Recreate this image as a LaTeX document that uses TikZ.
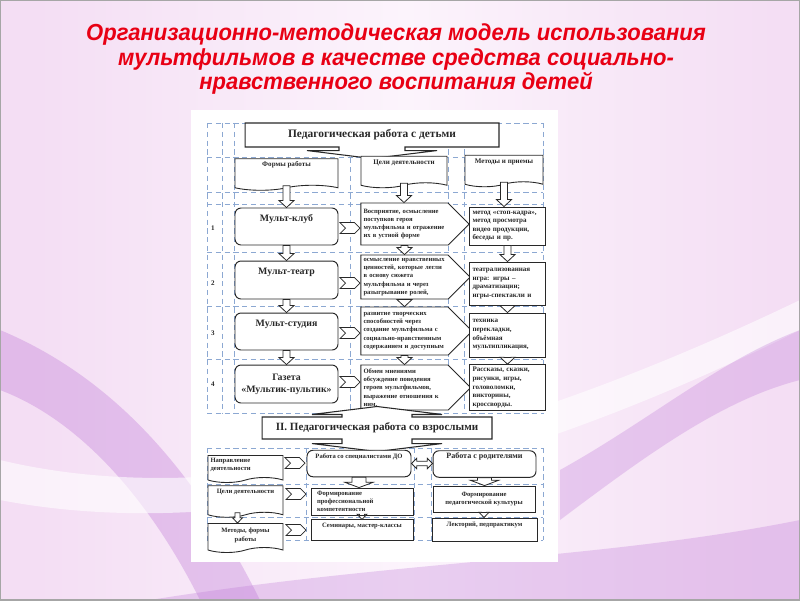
\documentclass[tikz,border=0pt]{standalone}
\usepackage{fontspec}
\setmainfont{Liberation Serif}
\newfontfamily\titlefont{Liberation Sans}[FakeStretch=0.95]
\usetikzlibrary{arrows.meta,calc,shapes.symbols,shapes.arrows}
\definecolor{mfred}{RGB}{232,0,20}
\definecolor{mfgrid}{RGB}{140,168,210}
\definecolor{mfpink}{RGB}{244,222,244}
\definecolor{mflight}{RGB}{252,244,252}
\definecolor{mfpurple}{RGB}{190,120,215}
\definecolor{mfink}{RGB}{40,40,40}
\newcommand\mftiny{\bfseries\fontsize{3.75}{4.7}\selectfont}
\newcommand\mfsmall{\bfseries\fontsize{4}{5}\selectfont}
\tikzset{
  mfshaft/.store in=\mfs, mfhead/.store in=\mfh, mflen/.store in=\mfl,
  mfshaft=2pt, mfhead=4.3pt, mflen=4pt,
  downblock/.style={draw=mfink,fill=white,line width=0.45pt,
    to path={let \p1=(\tikztostart), \p2=(\tikztotarget) in
      (\x1-\mfs,\y1) -- (\x1-\mfs,\y2+\mfl) -- (\x1-\mfh,\y2+\mfl) -- (\x1,\y2)
      -- (\x1+\mfh,\y2+\mfl) -- (\x1+\mfs,\y2+\mfl) -- (\x1+\mfs,\y1) -- cycle}},
  bothblock/.style={draw=mfink,fill=white,line width=0.45pt,
    to path={let \p1=(\tikztostart), \p2=(\tikztotarget) in
      (\x1,\y1) -- (\x1+\mfl,\y1+\mfh) -- (\x1+\mfl,\y1+\mfs) -- (\x2-\mfl,\y1+\mfs)
      -- (\x2-\mfl,\y1+\mfh) -- (\x2,\y1) -- (\x2-\mfl,\y1-\mfh) -- (\x2-\mfl,\y1-\mfs)
      -- (\x1+\mfl,\y1-\mfs) -- (\x1+\mfl,\y1-\mfh) -- cycle}},
}

\begin{document}
\begin{tikzpicture}[x=0.02cm,y=-0.02cm,
  every node/.style={text=mfink},
  gridline/.style={mfgrid,densely dashed,line width=0.3pt},
  docbox/.style={draw=mfink,fill=white,tape,tape bend top=none,tape bend height=0.1cm,
    line width=0.5pt,inner sep=1pt,font=\mfsmall},
  roundbox/.style={draw=mfink,fill=white,rounded corners=0.12cm,line width=0.55pt,inner sep=1pt},
  plainbox/.style={draw=mfink,fill=white,line width=0.5pt,inner sep=1.5pt,font=\mftiny},
  goalbox/.style={draw=mfink,fill=white,signal,signal to=east,signal pointer angle=90,
    line width=0.5pt,inner sep=1.5pt,align=left,text width=1.64cm,font=\mftiny},
  methbox/.style={plainbox,align=left,text width=1.4cm,minimum width=1.5cm,
    font=\bfseries\fontsize{4}{4.9}\selectfont},
  chevron/.style={draw=mfink,fill=white,signal,signal from=west,signal to=east,
    minimum width=0.4cm,minimum height=0.22cm,inner sep=0pt,line width=0.4pt},
  smallblock/.style={downblock,mfshaft=1.4pt,mfhead=2.8pt,mflen=3pt},
  wideblock/.style={downblock,mfshaft=4pt,mfhead=8pt,mflen=3pt},
  headbox/.style={draw=mfink,fill=white,arrow box,line width=0.6pt,
    arrow box shaft width=1.32cm,arrow box head extend=0.64cm,arrow box tip angle=166},
  formbox/.style={roundbox,minimum width=2.06cm,font=\bfseries\fontsize{5.6}{6.8}\selectfont},
  topline/.style={text height=0.12cm,text depth=0.34cm},
]
\useasboundingbox (0,0) rectangle (800,600);
\fill[mfpink] (0,0) rectangle (800,600);
\shade[left color=mfpink,right color=mfpink,middle color=mflight] (36,0) rectangle (775,600);
\fill[mfpurple,opacity=0.35] (0,330) .. controls (120,380) and (200,480) .. (260,600)
  -- (200,600) .. controls (150,500) and (80,420) .. (0,390) -- cycle;
\fill[white,opacity=0.6] (0,460) .. controls (250,520) and (550,420) .. (800,300)
  -- (800,330) .. controls (560,450) and (260,550) .. (0,500) -- cycle;
\fill[mfpurple,opacity=0.3] (150,600) .. controls (400,560) and (600,560) .. (800,520) -- (800,600) -- cycle;
\fill[mfpurple,opacity=0.3] (560,470) .. controls (650,420) and (720,360) .. (800,330)
  -- (800,380) .. controls (720,400) and (640,460) .. (560,520) -- cycle;
\fill[white] (191,110) rectangle (558,562);
\draw[gray!70,line width=0.8pt] (0,0) rectangle (800,600);

\node[font=\titlefont\bfseries\itshape\fontsize{13.2}{14.2}\selectfont,text=mfred,align=center]
  (title) at (396,59) {Организационно-методическая модель использования\\
  мультфильмов в качестве средства социально-\\нравственного воспитания детей};

\foreach \gx in {207,222,234,350,448,464,543}
  \draw[gridline] (\gx,123) -- (\gx,413);
\foreach \gy in {123,157,192,204,252,306,359,413}
  \draw[gridline] (207,\gy) -- (543,\gy);
\foreach \gx in {207,306,414,431,543}
  \draw[gridline] (\gx,448) -- (\gx,540);
\foreach \gy in {448,484,517,540}
  \draw[gridline] (207,\gy) -- (543,\gy);

\node[headbox,minimum width=5.08cm,minimum height=0.48cm,
  arrow box arrows={south:0.22cm from border},font=\bfseries\fontsize{6.5}{7.8}\selectfont]
  (kids) at (372,135) {Педагогическая работа с детьми};

\node[docbox,minimum width=2.06cm,minimum height=0.56cm,topline] (formhdr) at (286.5,172) {Формы работы};
\node[docbox,minimum width=1.72cm,minimum height=0.46cm,topline] (goalhdr) at (404,169.5) {Цели деятельности};
\node[docbox,minimum width=1.56cm,minimum height=0.42cm,topline] (methhdr) at (504,168.5) {Методы и приемы};

\foreach \n/\gy in {1/228,2/283,3/333,4/384}
  \node[font=\mfsmall] (num\n) at (213,\gy) {\n};

\node[formbox,minimum height=0.74cm,topline] (formI) at (286.5,226.5) {Мульт-клуб};
\node[formbox,minimum height=0.76cm,topline] (formII) at (286.5,280) {Мульт-театр};
\node[formbox,minimum height=0.74cm,topline] (formIII) at (286.5,331.5) {Мульт-студия};
\node[formbox,minimum height=0.76cm,align=center] (formIV) at (286.5,384) {Газета\\«Мультик-пультик»};

\node[goalbox,minimum height=0.84cm] (goalI) at (404.5,224)
  {Восприятие, осмысление\\поступков героя\\мультфильма и отражение\\их в устной форме};
\node[goalbox,minimum height=0.88cm] (goalII) at (404.5,277)
  {осмысление нравственных\\ценностей, которые легли\\в основу сюжета\\мультфильма и через\\разыгрывание ролей,};
\node[goalbox,minimum height=0.96cm] (goalIII) at (404.5,331)
  {развитие творческих\\способностей через\\создание мультфильма с\\социально-нравственным\\содержанием и доступным};
\node[goalbox,minimum height=0.9cm] (goalIV) at (404.5,387.5)
  {Обмен мнениями\\обсуждение поведения\\героев мультфильмов,\\выражение отношения к\\ним.};

\node[methbox,minimum height=0.76cm] (methI) at (507.5,226)
  {метод «стоп-кадра»,\\метод просмотра\\видео продукции,\\беседы и пр.};
\node[methbox,minimum height=0.86cm] (methII) at (507.5,283.5)
  {театрализованная\\игра: игры –\\драматизации;\\игры-спектакли и};
\node[methbox,minimum height=0.88cm] (methIII) at (507.5,335)
  {техника\\перекладки,\\объёмная\\мультипликация,};
\node[methbox,minimum height=0.9cm] (methIV) at (507.5,387.5)
  {Рассказы, сказки,\\рисунки, игры,\\головоломки,\\викторины,\\кроссворды.};

\foreach \r/\gy in {I/228,II/283,III/333,IV/382}
  \node[chevron] (chev\r) at (350,\gy) {};

\draw[downblock] (formhdr.south) to (formI.north);
\draw[downblock] (goalhdr.south) to (goalI.north);
\draw[downblock] (methhdr.south) to (methI.north);
\foreach \a/\b in {I/II,II/III,III/IV} {
  \draw[downblock] (form\a.south) to (form\b.north);
  \draw[downblock] (goal\a.south) to (goal\b.north);
  \draw[downblock] (meth\a.south) to (meth\b.north);
}

\node[headbox,minimum width=4.6cm,minimum height=0.4cm,
  arrow box arrows={north:0.2cm from border,south:0.24cm from border},
  arrow box shaft width=1.4cm,arrow box head extend=0.6cm,
  font=\bfseries\fontsize{6.3}{7.6}\selectfont]
  (adults) at (377,428) {II. Педагогическая работа со взрослыми};

\node[docbox,minimum width=1.5cm,minimum height=0.54cm,text width=1.4cm,align=left,
  font=\mftiny,text height=0.1cm,text depth=0.26cm] (dirdoc) at (245.5,466.5)
  {Направление\\деятельности};
\node[roundbox,minimum width=2.08cm,minimum height=0.42cm,font=\mftiny,topline] (spec) at (359,463.5)
  {Работа со специалистами ДО};
\node[roundbox,minimum width=2.06cm,minimum height=0.44cm,topline,
  font=\bfseries\fontsize{4.6}{5.6}\selectfont] (parents) at (484.5,464)
  {Работа с родителями};
\node[chevron] (chevdir) at (295,463) {};
\draw[bothblock,mfshaft=1.3pt,mfhead=3pt,mflen=3pt] (spec.east) to (parents.west);

\node[docbox,minimum width=1.5cm,minimum height=0.44cm,font=\mftiny,topline] (goaldoc) at (245.5,499)
  {Цели деятельности};
\node[chevron] (chevgoal) at (296,494) {};
\node[plainbox,minimum width=2.04cm,minimum height=0.54cm,text width=1.8cm,align=left] (prof) at (362,501.5)
  {Формирование\\профессиональной\\компетентности};
\node[plainbox,minimum width=2.04cm,minimum height=0.52cm,align=center] (cult) at (484,499)
  {Формирование\\педагогической культуры};

\node[docbox,minimum width=1.5cm,minimum height=0.58cm,font=\mftiny,align=center] (methdoc) at (245.5,535.5)
  {Методы, формы\\работы};
\node[chevron] (chevmeth) at (296,530) {};
\node[plainbox,minimum width=2.04cm,minimum height=0.4cm,text height=0.1cm,text depth=0.2cm] (semin) at (362,530)
  {Семинары, мастер-классы};
\node[plainbox,minimum width=2.1cm,minimum height=0.46cm,text height=0.1cm,text depth=0.22cm] (lect) at (484.5,529.5)
  {Лекторий, педпрактикум};

\draw[wideblock] (spec.south) to (prof.north);
\draw[wideblock] (parents.south) to (cult.north);
\draw[smallblock] ([xshift=-0.16cm]goaldoc.south) to ([xshift=-0.16cm]methdoc.north);
\draw[smallblock] (prof.south) to (semin.north);
\draw[smallblock] (cult.south) to (lect.north);
\end{tikzpicture}
\end{document}
